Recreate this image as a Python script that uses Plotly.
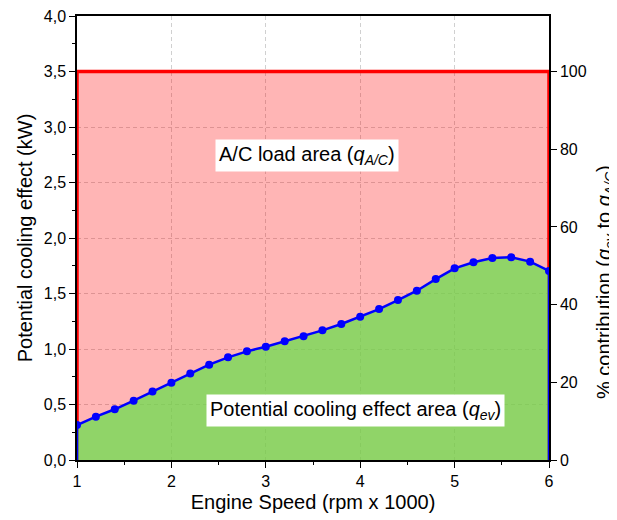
import plotly.graph_objects as go

# Data
engine_speed = [1.0, 1.2, 1.4, 1.6, 1.8, 2.0, 2.2, 2.4, 2.6, 2.8, 3.0, 3.2, 3.4,
                3.6, 3.8, 4.0, 4.2, 4.4, 4.6, 4.8, 5.0, 5.2, 5.4, 5.6, 5.8, 6.0]
q_ev = [0.315, 0.39, 0.457, 0.534, 0.616, 0.697, 0.78, 0.859, 0.925, 0.979, 1.021,
        1.069, 1.114, 1.168, 1.225, 1.29, 1.36, 1.441, 1.525, 1.63, 1.727, 1.781,
        1.82, 1.826, 1.787, 1.703]
q_ac = 3.5
x_ticks = [1, 2, 3, 4, 5, 6]
y_ticks = [0.0, 0.5, 1.0, 1.5, 2.0, 2.5, 3.0, 3.5, 4.0]
pct_ticks = [0, 20, 40, 60, 80, 100]

FONT = "Liberation Sans, Arial, sans-serif"
x0, x1 = engine_speed[0], engine_speed[-1]

fig = go.Figure()

# A/C load area (red)
fig.add_trace(go.Scatter(
    x=[x0, x0, x1, x1], y=[0, q_ac, q_ac, 0],
    mode="lines", fill="toself", fillcolor="rgba(255,0,0,0.29)",
    line=dict(color="#FF0000", width=3.5), hoverinfo="skip", showlegend=False))

# Potential cooling effect area (green)
fig.add_trace(go.Scatter(
    x=[x0] + engine_speed + [x1], y=[0] + q_ev + [0],
    mode="lines", fill="toself", fillcolor="rgba(101,224,75,0.72)",
    line=dict(color="#0000FF", width=2.5), hoverinfo="skip", showlegend=False))

fig.add_trace(go.Scatter(
    x=engine_speed, y=q_ev, mode="markers",
    marker=dict(color="#0000FF", size=8), showlegend=False))

# invisible trace for secondary axis
fig.add_trace(go.Scatter(x=[x0], y=[0], yaxis="y2", mode="markers",
                         marker=dict(opacity=0), showlegend=False, hoverinfo="skip"))

GRID = dict(showgrid=True, gridcolor="#D0D0D0", griddash="4px,3px", gridwidth=1)

fig.update_layout(
    width=609, height=512,
    margin=dict(l=69, r=68, t=8, b=60, autoexpand=False),
    paper_bgcolor="white", plot_bgcolor="white",
    separators=",.",
    font=dict(family=FONT, color="#000000", size=16),
    xaxis=dict(
        range=[1, 6], tickvals=x_ticks, ticks="outside", ticklen=6, tickcolor="#000",
        showline=True, linecolor="#000", linewidth=1.5, mirror=True,
        minor=dict(dtick=0.5, tick0=1, ticks="outside", ticklen=3, tickcolor="#000", showgrid=False),
        zeroline=False, tickfont=dict(size=16), ticklabeloverflow="allow",
        title=dict(text="Engine Speed (rpm x 1000)", font=dict(size=20), standoff=6), **GRID),
    yaxis=dict(
        range=[0, 4], tickvals=y_ticks, tickformat=".1f", ticks="outside", ticklen=6, tickcolor="#000",
        showline=True, linecolor="#000", linewidth=1.5,
        minor=dict(dtick=0.25, tick0=0, ticks="outside", ticklen=3, tickcolor="#000", showgrid=False),
        zeroline=False, tickfont=dict(size=16), ticklabeloverflow="allow",
        title=dict(text="Potential cooling effect (kW)", font=dict(size=20), standoff=6), **GRID),
    yaxis2=dict(
        overlaying="y", side="right", range=[0, 100 * 4 / q_ac],
        tickvals=pct_ticks, ticks="outside", ticklen=6, tickcolor="#000",
        showline=True, linecolor="#000", linewidth=1.5, showgrid=False, zeroline=False,
        tickfont=dict(size=16), ticklabeloverflow="allow"),
    annotations=[
        dict(x=3.44, y=2.74, xref="x", yref="y",
             text="A/C load area (<i>q</i><sub><i>A/C</i></sub>)",
             showarrow=False, bgcolor="white", font=dict(size=20), borderpad=3),
        dict(x=3.945, y=0.45, xref="x", yref="y",
             text="Potential cooling effect area (<i>q</i><sub><i>ev</i></sub>)",
             showarrow=False, bgcolor="white", font=dict(size=20), borderpad=3),
        dict(x=1.12, y=0.40, xref="paper", yref="paper", textangle=-90,
             xanchor="center", yanchor="middle",
             text="% contribution (<i>q</i><sub><i>ev</i></sub> to <i>q</i><sub><i>A/C</i></sub>)",
             showarrow=False, font=dict(size=20)),
    ],
)

fig.write_html("out.html")
